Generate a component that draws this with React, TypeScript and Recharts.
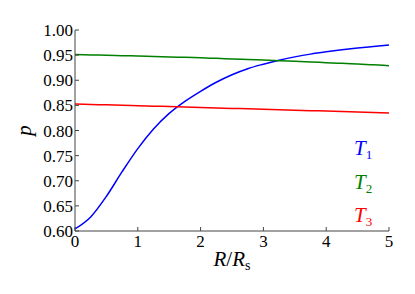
import React from 'react';
import { LineChart, Line, XAxis, YAxis, Legend, Label } from 'recharts';

const rValues = [0, 0.25, 0.5, 0.75, 1.0, 1.25, 1.5, 1.75, 2.0, 2.25, 2.5, 2.75, 3.0, 3.25, 3.5, 3.75, 4.0, 4.25, 4.5, 4.75, 5.0];
const t1Values = [0.604, 0.628, 0.669, 0.718, 0.764, 0.803, 0.834, 0.858, 0.878, 0.896, 0.911, 0.923, 0.932, 0.940, 0.9465, 0.952, 0.9565, 0.9605, 0.964, 0.967, 0.970];
const t2Values = [0.951, 0.9504, 0.9497, 0.949, 0.9482, 0.9474, 0.9465, 0.9456, 0.9446, 0.9436, 0.9425, 0.9414, 0.9402, 0.939, 0.9377, 0.9364, 0.935, 0.9336, 0.9321, 0.9306, 0.929];
const t3Values = [0.8525, 0.8518, 0.851, 0.8502, 0.8494, 0.8485, 0.8476, 0.8467, 0.8458, 0.8449, 0.844, 0.8431, 0.8422, 0.8413, 0.8404, 0.8395, 0.8386, 0.8377, 0.8368, 0.8359, 0.835];

const seriesNames = ['1', '2', '3'];
const seriesColors = ['#0000ff', '#008000', '#ff0000'];
const xTicks = [0, 1, 2, 3, 4, 5];
const yTicks = [0.6, 0.65, 0.7, 0.75, 0.8, 0.85, 0.9, 0.95, 1.0];

const data = rValues.map((r, i) => ({ R: r, t1: t1Values[i], t2: t2Values[i], t3: t3Values[i] }));

const FONT = 'Liberation Serif';
const AXIS = '#444';

const XTick = (props: any) => (
  <text x={props.x} y={props.y} dy="0.71em" textAnchor="middle" fill="#000" style={{ fontFamily: FONT, fontSize: 17 }}>
    {String(props.payload.value)}
  </text>
);

const YTick = (props: any) => (
  <text x={props.x} y={props.y} dy="0.355em" textAnchor="end" fill="#000" style={{ fontFamily: FONT, fontSize: 17 }}>
    {Number(props.payload.value).toFixed(2)}
  </text>
);

const XLabel = (props: any) => {
  const vb = props.viewBox || {};
  const cx = vb.x + vb.width / 2;
  return (
    <text x={cx} y={vb.y + 35} textAnchor="middle" fill="#000" style={{ fontFamily: FONT, fontSize: 21 }}>
      <tspan style={{ fontStyle: 'italic' }}>R</tspan>
      <tspan>/</tspan>
      <tspan style={{ fontStyle: 'italic' }}>R</tspan>
      <tspan style={{ fontSize: 14 }} dy={4}>s</tspan>
    </text>
  );
};

const YLabel = (props: any) => {
  const vb = props.viewBox || {};
  const cy = vb.y + vb.height / 2;
  const x = 31;
  return (
    <text x={x} y={cy} transform={`rotate(-90, ${x}, ${cy})`} textAnchor="middle" fill="#000" style={{ fontFamily: FONT, fontStyle: 'italic', fontSize: 21 }}>
      p
    </text>
  );
};

const LegendContent = () => (
  <div style={{ fontFamily: FONT, fontStyle: 'italic', fontSize: 21, lineHeight: '26.5px' }}>
    {seriesNames.map((n, i) => (
      <div key={n} style={{ color: seriesColors[i], whiteSpace: 'nowrap' }}>
        T<span style={{ fontStyle: 'normal', fontSize: 13, verticalAlign: '-4px' }}>{n}</span>
      </div>
    ))}
  </div>
);

export default function App() {
  return (
    <div style={{ position: 'absolute', left: 0, top: 0, width: 415, height: 294, background: '#fff' }}>
      <LineChart width={415} height={294} data={data} margin={{ top: 30, right: 26, bottom: 0, left: 0 }}>
        <XAxis
          dataKey="R"
          type="number"
          domain={[0, 5]}
          ticks={xTicks}
          height={63}
          tickSize={-4}
          tickMargin={8}
          axisLine={{ stroke: AXIS }}
          tickLine={{ stroke: AXIS }}
          tick={<XTick />}
          interval={0}
        >
          <Label content={<XLabel />} />
        </XAxis>
        <XAxis
          xAxisId="top"
          dataKey="R"
          type="number"
          orientation="top"
          domain={[0, 5]}
          ticks={xTicks}
          height={0}
          tickSize={-4}
          tickFormatter={() => ''}
          axisLine={{ stroke: AXIS }}
          tickLine={{ stroke: AXIS }}
          interval={0}
        />
        <YAxis
          type="number"
          domain={[0.6, 1.0]}
          ticks={yTicks}
          width={75}
          tickSize={-4}
          tickMargin={6}
          axisLine={{ stroke: AXIS }}
          tickLine={{ stroke: AXIS }}
          tick={<YTick />}
          interval={0}
        >
          <Label content={<YLabel />} />
        </YAxis>
        <YAxis
          yAxisId="right"
          type="number"
          orientation="right"
          domain={[0.6, 1.0]}
          ticks={yTicks}
          width={0}
          tickSize={-4}
          tickFormatter={() => ''}
          axisLine={{ stroke: AXIS }}
          tickLine={{ stroke: AXIS }}
          interval={0}
        />
        <Line dataKey="t1" name="1" type="monotone" stroke={seriesColors[0]} strokeWidth={1.5} dot={false} isAnimationActive={false} />
        <Line dataKey="t2" name="2" type="monotone" stroke={seriesColors[1]} strokeWidth={1.5} dot={false} isAnimationActive={false} />
        <Line dataKey="t3" name="3" type="monotone" stroke={seriesColors[2]} strokeWidth={1.5} dot={false} isAnimationActive={false} />
        <Legend
          layout="vertical"
          align="center"
          verticalAlign="middle"
          content={<LegendContent />}
          wrapperStyle={{ position: 'absolute', left: 354, top: 135, width: 'auto' }}
        />
      </LineChart>
    </div>
  );
}
